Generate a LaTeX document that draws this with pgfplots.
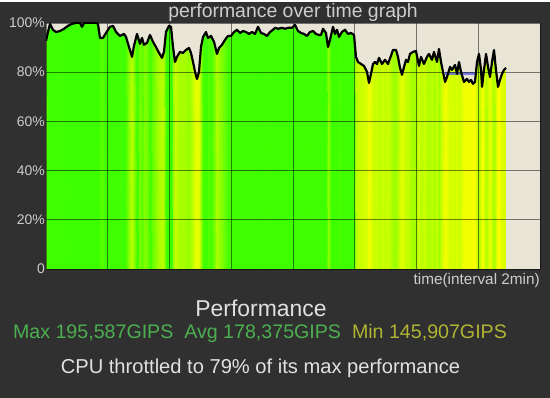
\documentclass[border=0pt]{standalone}
\usepackage{fontspec}
\setmainfont{Liberation Sans}
\usepackage{pgfplots}
\usepackage{pgfplotstable}
\pgfplotsset{compat=1.18}
\definecolor{darkbg}{RGB}{48,48,48}
\definecolor{plotbg}{RGB}{232,229,214}
\definecolor{ticktext}{RGB}{205,205,205}
\definecolor{maxgreen}{RGB}{76,175,80}
\definecolor{minyellow}{RGB}{175,180,50}
\definecolor{lightt}{RGB}{225,225,225}
\definecolor{throttle}{RGB}{80,90,230}

\pgfplotstableread{
x y
0.000 92.7
0.032 96.3
0.065 99.6
0.113 97.2
0.162 96.3
0.227 96.7
0.291 97.6
0.356 98.8
0.421 99.6
0.486 100
0.551 100
0.583 98.4
0.615 100
0.680 100
0.745 100
0.810 100
0.842 99.6
0.874 93.9
0.923 93.9
0.972 95.9
1.036 98.4
1.085 98.8
1.134 96.3
1.198 94.7
1.263 95.5
1.296 94.3
1.328 91.5
1.393 86.2
1.425 90.7
1.474 95.5
1.522 91.5
1.555 93.9
1.587 91.1
1.636 91.9
1.684 95.1
1.733 92.3
1.781 90.2
1.830 87.8
1.879 85.8
1.911 88.2
1.943 96.3
1.992 98.8
2.024 98.4
2.057 90.2
2.089 84.1
2.121 86.2
2.170 88.2
2.219 87.8
2.267 89.0
2.316 89.8
2.348 87.8
2.381 84.1
2.413 80.1
2.445 77.2
2.478 80.1
2.510 90.2
2.543 94.3
2.591 96.3
2.623 93.9
2.672 94.7
2.721 92.3
2.769 87.4
2.802 89.8
2.850 91.1
2.899 93.1
2.947 94.7
2.996 94.7
3.045 96.3
3.093 97.2
3.142 95.9
3.190 96.7
3.239 96.3
3.287 95.5
3.336 96.3
3.385 95.5
3.433 98.4
3.482 95.9
3.530 95.5
3.579 94.7
3.628 96.3
3.676 97.2
3.709 98.0
3.757 97.6
3.822 98.0
3.870 97.6
3.919 98.0
3.984 98.0
4.032 99.2
4.081 96.7
4.130 95.9
4.178 95.5
4.227 94.7
4.275 96.3
4.324 96.7
4.372 95.5
4.421 95.1
4.453 95.1
4.486 97.6
4.534 95.9
4.567 90.2
4.599 93.1
4.648 98.4
4.680 95.5
4.713 97.2
4.745 94.3
4.793 96.3
4.842 97.2
4.891 95.5
4.939 95.9
4.988 95.1
5.020 86.2
5.053 84.1
5.101 83.3
5.150 82.5
5.198 80.1
5.231 75.6
5.263 79.3
5.296 83.3
5.328 84.1
5.360 83.3
5.393 85.8
5.441 83.3
5.490 85.0
5.538 83.3
5.587 86.6
5.619 89.0
5.668 89.0
5.700 86.2
5.733 81.7
5.765 78.9
5.798 82.1
5.830 85.0
5.862 84.1
5.895 87.4
5.943 88.2
5.992 88.6
6.040 82.5
6.073 86.2
6.121 83.3
6.170 86.2
6.202 87.4
6.251 85.0
6.283 88.2
6.332 84.1
6.364 89.4
6.397 84.1
6.429 80.1
6.462 76.0
6.494 78.0
6.543 82.1
6.575 80.9
6.623 82.9
6.656 79.3
6.688 84.1
6.721 80.1
6.769 76.0
6.818 77.2
6.850 76.0
6.883 76.8
6.915 75.2
6.947 76.0
6.980 84.1
7.012 87.4
7.045 80.9
7.061 74.0
7.093 80.9
7.126 87.4
7.158 82.1
7.190 78.0
7.223 84.1
7.255 89.0
7.287 80.9
7.320 74.0
7.352 76.8
7.385 79.3
7.417 80.9
7.449 81.7
}\perf

% area under the curve: bottom scanline (y=0) then top scanline, colour c
\pgfplotstableread{
x y c
0.000 0 92.7
0.032 0 96.3
0.065 0 99.6
0.113 0 97.2
0.162 0 96.3
0.227 0 96.7
0.291 0 97.6
0.356 0 98.8
0.421 0 99.6
0.486 0 100
0.551 0 100
0.583 0 98.4
0.615 0 100
0.680 0 100
0.745 0 100
0.810 0 100
0.842 0 99.6
0.874 0 93.9
0.923 0 93.9
0.972 0 95.9
1.036 0 98.4
1.085 0 98.8
1.134 0 96.3
1.198 0 94.7
1.263 0 95.5
1.296 0 94.3
1.328 0 91.5
1.393 0 86.2
1.425 0 90.7
1.474 0 95.5
1.522 0 91.5
1.555 0 93.9
1.587 0 91.1
1.636 0 91.9
1.684 0 95.1
1.733 0 92.3
1.781 0 90.2
1.830 0 87.8
1.879 0 85.8
1.911 0 88.2
1.943 0 96.3
1.992 0 98.8
2.024 0 98.4
2.057 0 90.2
2.089 0 84.1
2.121 0 86.2
2.170 0 88.2
2.219 0 87.8
2.267 0 89.0
2.316 0 89.8
2.348 0 87.8
2.381 0 84.1
2.413 0 80.1
2.445 0 77.2
2.478 0 80.1
2.510 0 90.2
2.543 0 94.3
2.591 0 96.3
2.623 0 93.9
2.672 0 94.7
2.721 0 92.3
2.769 0 87.4
2.802 0 89.8
2.850 0 91.1
2.899 0 93.1
2.947 0 94.7
2.996 0 94.7
3.045 0 96.3
3.093 0 97.2
3.142 0 95.9
3.190 0 96.7
3.239 0 96.3
3.287 0 95.5
3.336 0 96.3
3.385 0 95.5
3.433 0 98.4
3.482 0 95.9
3.530 0 95.5
3.579 0 94.7
3.628 0 96.3
3.676 0 97.2
3.709 0 98.0
3.757 0 97.6
3.822 0 98.0
3.870 0 97.6
3.919 0 98.0
3.984 0 98.0
4.032 0 99.2
4.081 0 96.7
4.130 0 95.9
4.178 0 95.5
4.227 0 94.7
4.275 0 96.3
4.324 0 96.7
4.372 0 95.5
4.421 0 95.1
4.453 0 95.1
4.486 0 97.6
4.534 0 95.9
4.567 0 90.2
4.599 0 93.1
4.648 0 98.4
4.680 0 95.5
4.713 0 97.2
4.745 0 94.3
4.793 0 96.3
4.842 0 97.2
4.891 0 95.5
4.939 0 95.9
4.988 0 95.1
5.020 0 86.2
5.053 0 84.1
5.101 0 83.3
5.150 0 82.5
5.198 0 80.1
5.231 0 75.6
5.263 0 79.3
5.296 0 83.3
5.328 0 84.1
5.360 0 83.3
5.393 0 85.8
5.441 0 83.3
5.490 0 85.0
5.538 0 83.3
5.587 0 86.6
5.619 0 89.0
5.668 0 89.0
5.700 0 86.2
5.733 0 81.7
5.765 0 78.9
5.798 0 82.1
5.830 0 85.0
5.862 0 84.1
5.895 0 87.4
5.943 0 88.2
5.992 0 88.6
6.040 0 82.5
6.073 0 86.2
6.121 0 83.3
6.170 0 86.2
6.202 0 87.4
6.251 0 85.0
6.283 0 88.2
6.332 0 84.1
6.364 0 89.4
6.397 0 84.1
6.429 0 80.1
6.462 0 76.0
6.494 0 78.0
6.543 0 82.1
6.575 0 80.9
6.623 0 82.9
6.656 0 79.3
6.688 0 84.1
6.721 0 80.1
6.769 0 76.0
6.818 0 77.2
6.850 0 76.0
6.883 0 76.8
6.915 0 75.2
6.947 0 76.0
6.980 0 84.1
7.012 0 87.4
7.045 0 80.9
7.061 0 74.0
7.093 0 80.9
7.126 0 87.4
7.158 0 82.1
7.190 0 78.0
7.223 0 84.1
7.255 0 89.0
7.287 0 80.9
7.320 0 74.0
7.352 0 76.8
7.385 0 79.3
7.417 0 80.9
7.449 0 81.7
0.000 92.7 92.7
0.032 96.3 96.3
0.065 99.6 99.6
0.113 97.2 97.2
0.162 96.3 96.3
0.227 96.7 96.7
0.291 97.6 97.6
0.356 98.8 98.8
0.421 99.6 99.6
0.486 100 100
0.551 100 100
0.583 98.4 98.4
0.615 100 100
0.680 100 100
0.745 100 100
0.810 100 100
0.842 99.6 99.6
0.874 93.9 93.9
0.923 93.9 93.9
0.972 95.9 95.9
1.036 98.4 98.4
1.085 98.8 98.8
1.134 96.3 96.3
1.198 94.7 94.7
1.263 95.5 95.5
1.296 94.3 94.3
1.328 91.5 91.5
1.393 86.2 86.2
1.425 90.7 90.7
1.474 95.5 95.5
1.522 91.5 91.5
1.555 93.9 93.9
1.587 91.1 91.1
1.636 91.9 91.9
1.684 95.1 95.1
1.733 92.3 92.3
1.781 90.2 90.2
1.830 87.8 87.8
1.879 85.8 85.8
1.911 88.2 88.2
1.943 96.3 96.3
1.992 98.8 98.8
2.024 98.4 98.4
2.057 90.2 90.2
2.089 84.1 84.1
2.121 86.2 86.2
2.170 88.2 88.2
2.219 87.8 87.8
2.267 89.0 89.0
2.316 89.8 89.8
2.348 87.8 87.8
2.381 84.1 84.1
2.413 80.1 80.1
2.445 77.2 77.2
2.478 80.1 80.1
2.510 90.2 90.2
2.543 94.3 94.3
2.591 96.3 96.3
2.623 93.9 93.9
2.672 94.7 94.7
2.721 92.3 92.3
2.769 87.4 87.4
2.802 89.8 89.8
2.850 91.1 91.1
2.899 93.1 93.1
2.947 94.7 94.7
2.996 94.7 94.7
3.045 96.3 96.3
3.093 97.2 97.2
3.142 95.9 95.9
3.190 96.7 96.7
3.239 96.3 96.3
3.287 95.5 95.5
3.336 96.3 96.3
3.385 95.5 95.5
3.433 98.4 98.4
3.482 95.9 95.9
3.530 95.5 95.5
3.579 94.7 94.7
3.628 96.3 96.3
3.676 97.2 97.2
3.709 98.0 98.0
3.757 97.6 97.6
3.822 98.0 98.0
3.870 97.6 97.6
3.919 98.0 98.0
3.984 98.0 98.0
4.032 99.2 99.2
4.081 96.7 96.7
4.130 95.9 95.9
4.178 95.5 95.5
4.227 94.7 94.7
4.275 96.3 96.3
4.324 96.7 96.7
4.372 95.5 95.5
4.421 95.1 95.1
4.453 95.1 95.1
4.486 97.6 97.6
4.534 95.9 95.9
4.567 90.2 90.2
4.599 93.1 93.1
4.648 98.4 98.4
4.680 95.5 95.5
4.713 97.2 97.2
4.745 94.3 94.3
4.793 96.3 96.3
4.842 97.2 97.2
4.891 95.5 95.5
4.939 95.9 95.9
4.988 95.1 95.1
5.020 86.2 86.2
5.053 84.1 84.1
5.101 83.3 83.3
5.150 82.5 82.5
5.198 80.1 80.1
5.231 75.6 75.6
5.263 79.3 79.3
5.296 83.3 83.3
5.328 84.1 84.1
5.360 83.3 83.3
5.393 85.8 85.8
5.441 83.3 83.3
5.490 85.0 85.0
5.538 83.3 83.3
5.587 86.6 86.6
5.619 89.0 89.0
5.668 89.0 89.0
5.700 86.2 86.2
5.733 81.7 81.7
5.765 78.9 78.9
5.798 82.1 82.1
5.830 85.0 85.0
5.862 84.1 84.1
5.895 87.4 87.4
5.943 88.2 88.2
5.992 88.6 88.6
6.040 82.5 82.5
6.073 86.2 86.2
6.121 83.3 83.3
6.170 86.2 86.2
6.202 87.4 87.4
6.251 85.0 85.0
6.283 88.2 88.2
6.332 84.1 84.1
6.364 89.4 89.4
6.397 84.1 84.1
6.429 80.1 80.1
6.462 76.0 76.0
6.494 78.0 78.0
6.543 82.1 82.1
6.575 80.9 80.9
6.623 82.9 82.9
6.656 79.3 79.3
6.688 84.1 84.1
6.721 80.1 80.1
6.769 76.0 76.0
6.818 77.2 77.2
6.850 76.0 76.0
6.883 76.8 76.8
6.915 75.2 75.2
6.947 76.0 76.0
6.980 84.1 84.1
7.012 87.4 87.4
7.045 80.9 80.9
7.061 74.0 74.0
7.093 80.9 80.9
7.126 87.4 87.4
7.158 82.1 82.1
7.190 78.0 78.0
7.223 84.1 84.1
7.255 89.0 89.0
7.287 80.9 80.9
7.320 74.0 74.0
7.352 76.8 76.8
7.385 79.3 79.3
7.417 80.9 80.9
7.449 81.7 81.7
}\area

\begin{document}
\begin{tikzpicture}
\fill[darkbg] (0,0) rectangle (550bp,396bp);
\begin{axis}[
  at={(46bp,129bp)}, anchor=south west,
  width=494bp, height=246bp, scale only axis,
  xmin=0, xmax=8, ymin=0, ymax=100,
  axis background/.style={fill=plotbg},
  axis line style={draw=none},
  axis on top,
  xtick={0,1,...,8}, xticklabels={},
  ytick={0,20,40,60,80,100},
  yticklabels={0,20\%,40\%,60\%,80\%,100\%},
  yticklabel style={font=\fontsize{14}{14}\selectfont, text=ticktext, inner sep=0pt, xshift=-1bp},
  major tick length=0pt,
  grid=major,
  major grid style={draw=black, opacity=0.5, line width=0.7bp},
  colormap={perf}{rgb255(0cm)=(255,255,0) rgb255(2cm)=(245,255,0) rgb255(5cm)=(225,255,0) rgb255(10cm)=(200,255,0) rgb255(15cm)=(160,255,0) rgb255(19cm)=(100,255,0) rgb255(21cm)=(64,255,0) rgb255(26cm)=(60,255,0)},
  point meta min=74, point meta max=100,
]
\addplot[surf, shader=interp, mesh/rows=2, point meta=\thisrow{c}] table[x=x, y=y] {\area};
\addplot[draw=throttle, opacity=0.75, line width=3bp] coordinates {(6.46,79.4) (6.95,79.4)};
\addplot[black, line width=2.2bp, line join=round] table[x=x, y=y] {\perf};
\end{axis}
\node[anchor=base, text=ticktext, font=\fontsize{19.5}{20}\selectfont] at (293bp,380.5bp) {performance over time graph};
\node[anchor=base east, text=ticktext, inner sep=0pt, font=\fontsize{15.4}{16}\selectfont] at (540bp,113bp) {time(interval 2min)};
\node[anchor=base, text=lightt, font=\fontsize{23}{24}\selectfont] at (261bp,81bp) {Performance};
\node[anchor=base, inner sep=0pt, font=\fontsize{19.7}{20}\selectfont] at (260bp,59bp) {\textcolor{maxgreen}{Max 195,587GIPS\ \ Avg 178,375GIPS}\ \ \textcolor{minyellow}{Min 145,907GIPS}};
\node[anchor=base, text=lightt, inner sep=0pt, font=\fontsize{20.2}{21}\selectfont] at (260.5bp,24bp) {CPU throttled to 79\% of its max performance};
\end{tikzpicture}
\end{document}
